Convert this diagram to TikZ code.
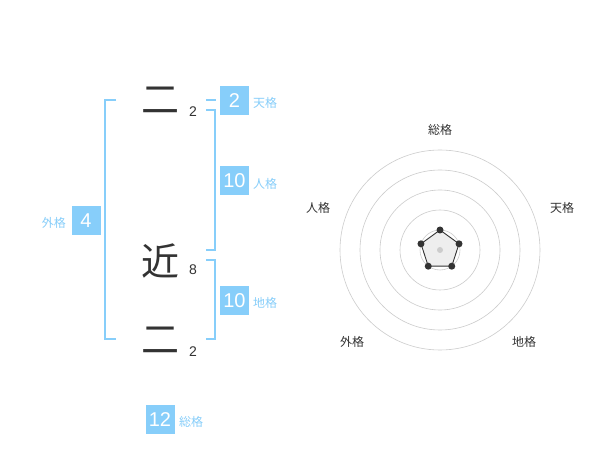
\documentclass[tikz,border=0pt]{standalone}
\usepackage{fontspec}
\setmainfont{Liberation Sans}
\newfontfamily\jp{Noto Sans CJK JP}
\definecolor{kblue}{RGB}{135,206,250}
\definecolor{kdark}{RGB}{51,51,51}
\definecolor{kgrid}{RGB}{204,204,204}
\definecolor{kfill}{RGB}{238,238,238}
\tikzset{
  bignum/.style={fill=kblue,text=white,minimum width=29pt,minimum height=29pt,inner sep=0pt,font=\fontsize{20}{20}\selectfont},
  klabel/.style={text=kblue,font=\jp\fontsize{12}{12}\selectfont,inner sep=0pt,anchor=west},
  bigchar/.style={text=kdark,font=\jp\fontsize{38}{38}\selectfont,inner sep=0pt},
  stroke/.style={text=kdark,font=\fontsize{14}{14}\selectfont,inner sep=0pt},
  brk/.style={draw=kblue,line width=1.6pt},
  rlabel/.style={text=kdark,font=\jp\fontsize{12}{12}\selectfont,inner sep=0pt},
  ring/.style={draw=kgrid,line width=0.6pt},
  vdot/.style={circle,fill=kdark,inner sep=0pt,minimum size=7pt},
  cdot/.style={circle,fill=kgrid,inner sep=0pt,minimum size=6pt}
}
\begin{document}
\begin{tikzpicture}[x=1pt,y=-1pt]
\useasboundingbox[fill=white] (0,0) rectangle (600,470);
% characters
\node[bigchar] (c1) at (160,100) {二};
\node[bigchar] (c2) at (160,261) {近};
\node[bigchar] (c3) at (160,340) {二};
\node[stroke] (n1) at (193,112) {2};
\node[stroke] (n2) at (193,270) {8};
\node[stroke] (n3) at (193,352) {2};
% brackets
\draw[brk] (116,100) -- (105,100) -- (105,339) -- (116,339);
\draw[brk] (206,100) -- (216,100);
\draw[brk] (206,110) -- (215,110) -- (215,250) -- (206,250);
\draw[brk] (206,260) -- (215,260) -- (215,339) -- (206,339);
% number boxes
\node[bignum] (ten) at (234.5,100.5) {2};
\node[klabel] (tenl) at (253,103) {天格};
\node[bignum] (jin) at (234.5,181) {10};
\node[klabel] (jinl) at (253,184) {人格};
\node[bignum] (chi) at (234.5,300.5) {10};
\node[klabel] (chil) at (253,303) {地格};
\node[bignum] (gai) at (86,220.5) {4};
\node[klabel,anchor=east] (gail) at (66,223) {外格};
\node[bignum] (sou) at (160,419.5) {12};
\node[klabel] (soul) at (179,422) {総格};
% radar
\coordinate (o) at (440,250);
\foreach \r in {20,40,60,80,100}{\draw[ring] (o) circle (\r);}
\node[rlabel] (rs) at (440,130) {総格};
\node[rlabel] (rt) at (562,208) {天格};
\node[rlabel] (rj) at (318,208) {人格};
\node[rlabel] (rg) at (352,342) {外格};
\node[rlabel] (rc) at (524,342) {地格};
\path (o) ++(-90:20) coordinate (p1);
\path (o) ++(-18:20) coordinate (p2);
\path (o) ++(54:20) coordinate (p3);
\path (o) ++(126:20) coordinate (p4);
\path (o) ++(198:20) coordinate (p5);
\draw[kdark,fill=kfill,line width=0.9pt] (p1) -- (p2) -- (p3) -- (p4) -- (p5) -- cycle;
\node[cdot] (oc) at (o) {};
\foreach \p in {p1,p2,p3,p4,p5}{\node[vdot] at (\p) {};}
\end{tikzpicture}
\end{document}
